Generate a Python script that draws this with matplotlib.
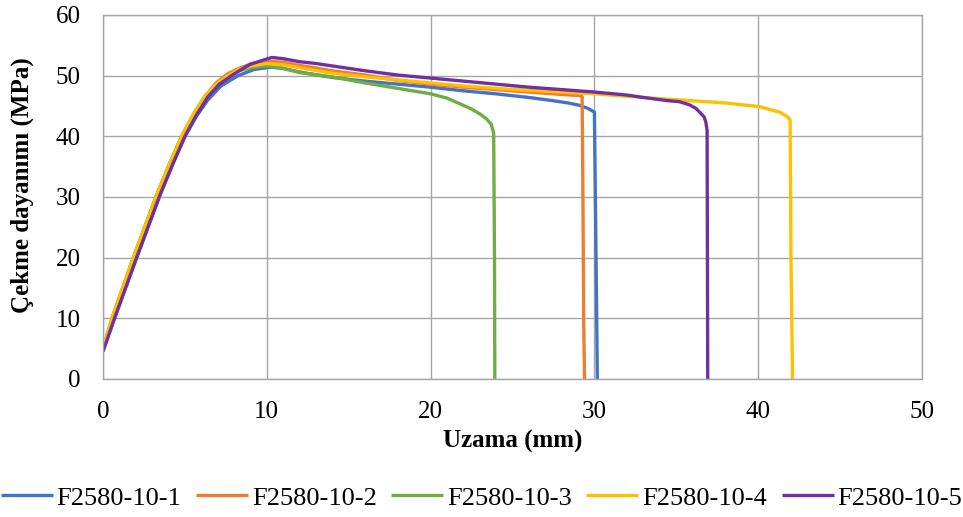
import matplotlib
matplotlib.use('Agg')
import matplotlib.pyplot as plt

plt.rcParams['font.family'] = ['Liberation Serif', 'DejaVu Serif']

# Tensile tests, values
LABELS = ['F2580-10-1', 'F2580-10-2', 'F2580-10-3', 'F2580-10-4', 'F2580-10-5']
COLORS = ['#4472C4', '#ED7D31', '#70AD47', '#FFC000', '#7030A0']

x1 = [0, 0.7, 2.05, 3.5, 4.3, 5.0, 5.7, 6.4, 7.2, 8.25, 9.2, 10.2, 11, 12, 14,
      16, 18, 20, 22, 24, 26, 27.4, 28.4, 29.1, 29.6, 30.0, 30.1, 30.18]
y1 = [4.8, 10, 20, 30.5, 35.7, 40, 43.3, 46, 48.3, 50, 51.0, 51.4, 51.2, 50.6,
      49.7, 49.1, 48.6, 48.1, 47.5, 47.0, 46.4, 45.9, 45.5, 45.1, 44.6, 44.0,
      20, 0]

x2 = [0, 0.55, 1.85, 3.3, 4.1, 4.8, 5.5, 6.2, 6.9, 7.6, 8.3, 9.0, 10, 11, 12,
      14, 16, 18, 20, 22, 24, 26, 28, 29.2, 29.25, 29.3, 29.35, 29.4]
y2 = [5, 10, 20, 30.5, 35.7, 40, 43.5, 46.5, 48.8, 50.3, 51.2, 51.9, 52.4,
      52.2, 51.7, 50.8, 50.1, 49.2, 48.6, 48.1, 47.7, 47.3, 46.9, 46.7, 46.5,
      30, 8.6, 0]

x3 = [0, 0.55, 1.85, 3.3, 4.1, 4.8, 5.5, 6.2, 6.9, 7.6, 8.3, 9.0, 10, 11, 12,
      14, 16, 18, 20, 21, 22, 22.5, 23, 23.4, 23.7, 23.85, 23.9, 23.92]
y3 = [5, 10, 20, 30.5, 35.7, 40, 43.5, 46.5, 48.6, 50, 50.8, 51.3, 51.6, 51.2,
      50.5, 49.8, 48.8, 47.9, 47.0, 46.3, 45.1, 44.5, 43.7, 42.9, 42.0, 40.5,
      20, 0]

x4 = [0, 0.55, 1.85, 3.3, 4.1, 4.8, 5.5, 6.2, 6.9, 7.6, 8.3, 9.0, 10, 11, 12,
      14, 16, 18, 20, 22, 24, 26, 28, 30, 32, 34, 35.2, 38, 40.06, 41.3, 41.8,
      41.95, 42.0, 42.1]
y4 = [5, 10, 20, 30.5, 35.7, 40, 43.5, 46.5, 48.6, 50, 51.0, 51.6, 52.0, 51.8,
      51.3, 50.4, 49.8, 49.3, 48.8, 48.3, 47.9, 47.6, 47.3, 47.0, 46.6, 46.2,
      46.0, 45.5, 44.9, 44.0, 43.2, 42.7, 20, 0]

x5 = [0, 0.7, 2.05, 3.5, 4.3, 5.0, 5.7, 6.4, 7.1, 7.85, 8.5, 9.0, 10.3, 11, 12,
      13, 14, 16, 18, 20, 22, 24, 26, 28, 30, 32, 33, 34.4, 35.2, 35.8, 36.2,
      36.7, 36.8, 36.88, 36.9, 36.92]
y5 = [4.5, 10, 20, 30.5, 35.7, 40, 43.5, 46.5, 48.6, 50, 51.1, 51.9, 53.0,
      52.8, 52.3, 52.0, 51.6, 50.8, 50.1, 49.6, 49.1, 48.6, 48.1, 47.7, 47.3,
      46.8, 46.4, 45.9, 45.7, 45.2, 44.6, 43.2, 42.4, 41, 20, 0]

SERIES = [(x1, y1), (x2, y2), (x3, y3), (x4, y4), (x5, y5)]

fig, ax = plt.subplots(figsize=(9.63, 5.17), dpi=100)
fig.subplots_adjust(left=0.107, right=0.9574, bottom=0.267, top=0.971)

for (xs, ys), label, color in zip(SERIES, LABELS, COLORS):
    ax.plot(xs, ys, color=color, lw=2.4, label=label, solid_capstyle='butt',
            solid_joinstyle='round')

ax.set_xlim(0, 50)
ax.set_ylim(0, 60)
ax.set_xticks(range(0, 51, 10))
ax.set_yticks(range(0, 61, 10))
ax.grid(True, color='#A6A6A6', lw=1.0)
ax.set_axisbelow(True)
for sp in ax.spines.values():
    sp.set_color('#A6A6A6')
    sp.set_linewidth(1.0)
ax.tick_params(length=0, labelsize=18, pad=16)

ax.set_xlabel('Uzama (mm)', fontsize=18, fontweight='bold')
ax.set_ylabel('Çekme dayanımı (MPa)', fontsize=18, fontweight='bold')
ax.xaxis.set_label_coords(0.5, -0.14)
ax.yaxis.set_label_coords(-0.084, 0.533)

fig.legend(loc='center', bbox_to_anchor=(0.5, 0.037), ncol=5, frameon=False,
           fontsize=19, handlelength=1.97, handletextpad=0.15, columnspacing=0.55)

fig.savefig('out.png', dpi=100)
